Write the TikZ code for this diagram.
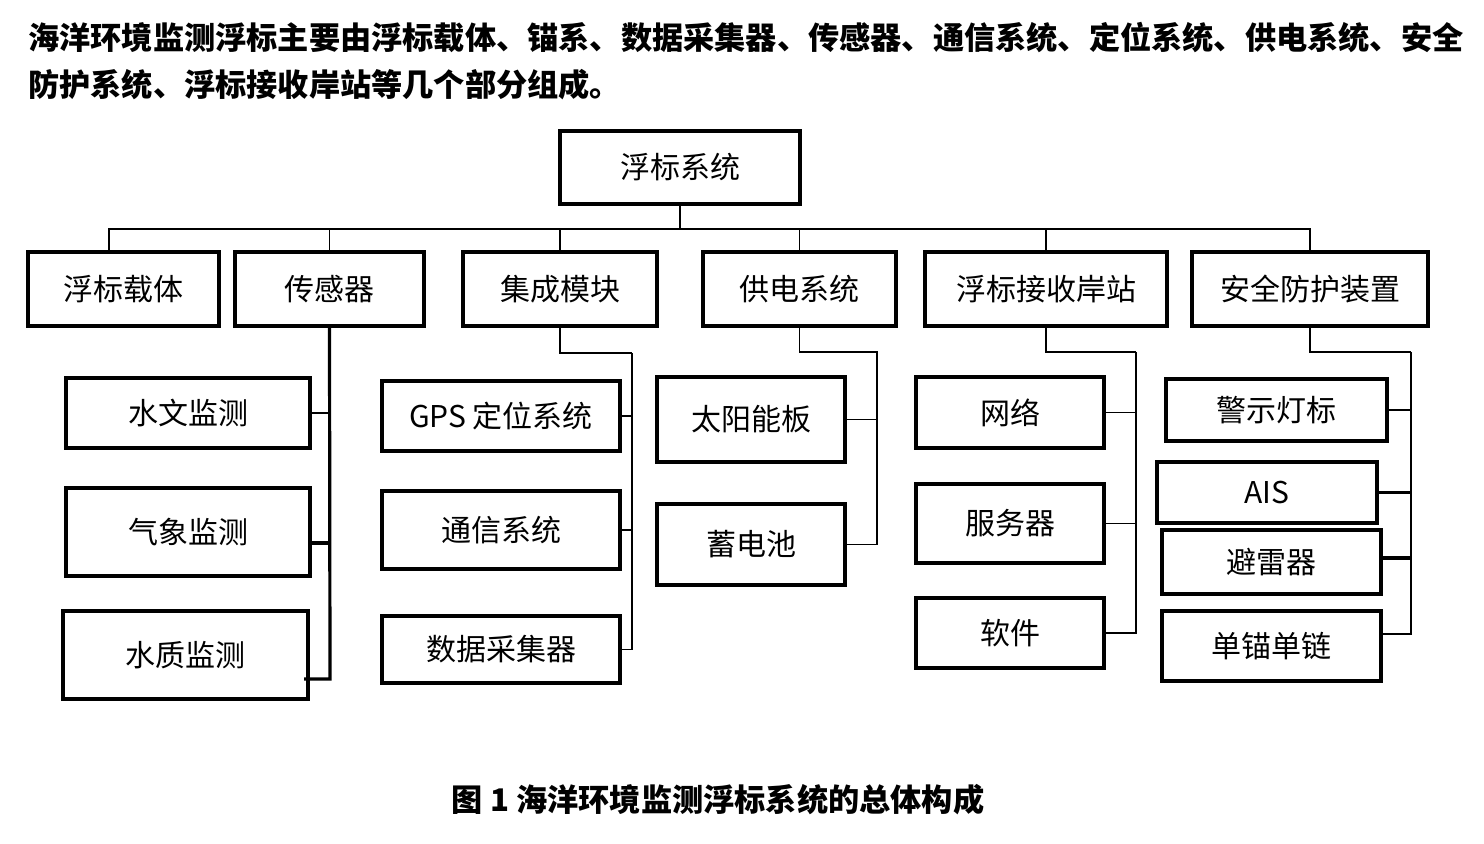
\documentclass[tikz,border=0pt]{standalone}
\usepackage{fontspec}
\usepackage{xcolor}
\usepackage{tikz}

\newfontfamily\cjk{Noto Sans CJK SC}
\newcommand{\partfont}{\cjk\fontsize{15}{18}\selectfont}
\newcommand{\parafont}{\cjk\bfseries\fontsize{15.6}{19}\selectfont}
\newcommand{\figtitlefont}{\cjk\bfseries\fontsize{15.6}{19}\selectfont}

\tikzset{
  partbox/.style 2 args = {draw, line width = 2.2pt, inner sep = 0pt,
    minimum width = #1*0.5pt, minimum height = #2*0.5pt, font = \partfont},
  link/.style = {line width = 0.7pt},
  midlink/.style = {line width = 1.1pt},
  thicklink/.style = {line width = 1.6pt}
}

\begin{document}
\begin{tikzpicture}[x = 0.5pt, y = -0.5pt]

\useasboundingbox (0,0) rectangle (1484,844);

\node[anchor = west, inner sep = 0pt, font = \parafont] (line1) at (28,38)
{海洋环境监测浮标主要由浮标载体、锚系、数据采集器、传感器、通信系统、定位系统、供电系统、安全};
\node[anchor = west, inner sep = 0pt, font = \parafont] (line2) at (28,85)
{防护系统、浮标接收岸站等几个部分组成。};

\node[partbox = {240}{73}] (top) at (680,167.5) {浮标系统};

\node[partbox = {191}{74}] (carrier) at (123.5,289) {浮标载体};
\node[partbox = {189}{74}] (sensor) at (329.5,289) {传感器};
\node[partbox = {194}{74}] (integ) at (560,289) {集成模块};
\node[partbox = {193}{74}] (power) at (799.5,289) {供电系统};
\node[partbox = {242}{74}] (shore) at (1046,289) {浮标接收岸站};
\node[partbox = {236}{74}] (safety) at (1310,289) {安全防护装置};

\node[partbox = {244}{70}] (hydro) at (188,413) {水文监测};
\node[partbox = {244}{88}] (meteo) at (188,532) {气象监测};
\node[partbox = {245}{88}] (quality) at (185.5,655) {水质监测};

\node[partbox = {238}{70}] (gps) at (501,416) {GPS 定位系统};
\node[partbox = {238}{78}] (comm) at (501,530) {通信系统};
\node[partbox = {238}{67}] (collect) at (501,649.5) {数据采集器};

\node[partbox = {188}{85}] (solar) at (751,419.5) {太阳能板};
\node[partbox = {188}{81}] (battery) at (751,544.5) {蓄电池};

\node[partbox = {188}{71}] (network) at (1010,412.5) {网络};
\node[partbox = {188}{79}] (server) at (1010,523.5) {服务器};
\node[partbox = {188}{70}] (software) at (1010,633) {软件};

\node[partbox = {221}{62}] (lamp) at (1276.5,410) {警示灯标};
\node[partbox = {220}{61}] (ais) at (1267,492.5) {AIS};
\node[partbox = {219}{64}] (lightning) at (1271.5,562) {避雷器};
\node[partbox = {219}{70}] (mooring) at (1271.5,646) {单锚单链};

% top bus
\coordinate (bus) at (680,229);
\draw[link] (top.south) -- (bus);
\draw[link] (carrier.north -| 109,0) |- (bus);
\draw[link] (sensor.north) |- (bus);
\draw[link] (integ.north) |- (bus);
\draw[link] (power.north) |- (bus);
\draw[link] (shore.north) |- (bus);
\draw[link] (safety.north) |- (bus);

% sensor branch
\coordinate (sensorend) at (330,679);
\draw[thicklink] (sensor.south) -- (sensorend) -- (sensorend -| 304,0);
\draw[link] (hydro.east) -- (hydro.east -| sensorend);
\draw[thicklink] (meteo.east |- 0,543) -- (sensorend |- 0,543);

% integration branch
\coordinate (integturn) at (632,353);
\draw[midlink] (integ.south) |- (integturn);
\draw[link] (integturn) -- (integturn |- collect.east) -- (collect.east);
\draw[link] (gps.east) -- (gps.east -| integturn);
\draw[link] (comm.east) -- (comm.east -| integturn);

% power branch
\coordinate (powerturn) at (877,352);
\draw[link] (power.south) |- (powerturn) -- (powerturn |- battery.east) -- (battery.east);
\draw[link] (solar.east) -- (solar.east -| powerturn);

% shore station branch
\coordinate (shoreturn) at (1136,352);
\draw[midlink] (shore.south) |- (shoreturn);
\draw[link] (shoreturn) -- (shoreturn |- software.east) -- (software.east);
\draw[link] (network.east) -- (network.east -| shoreturn);
\draw[link] (server.east) -- (server.east -| shoreturn);

% safety branch
\coordinate (safetyturn) at (1411,352);
\draw[midlink] (safety.south) |- (safetyturn);
\draw[link] (safetyturn) -- (safetyturn |- 0,634) -- (mooring.east |- 0,634);
\draw[link] (lamp.east) -- (lamp.east -| safetyturn);
\draw[thicklink] (ais.east) -- (ais.east -| safetyturn);
\draw[thicklink] (lightning.east |- 0,558) -- (safetyturn |- 0,558);

\node[font = \figtitlefont] (figtitle) at (718,800) {图~1~海洋环境监测浮标系统的总体构成};

\end{tikzpicture}
\end{document}
